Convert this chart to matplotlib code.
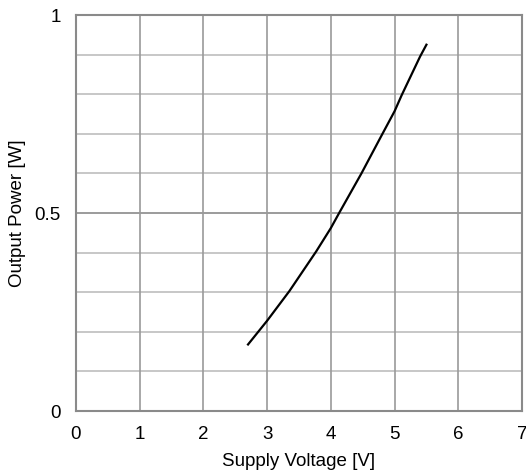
import matplotlib
matplotlib.use("Agg")
import matplotlib.pyplot as plt
import numpy as np

voltage = [2.70, 3.00, 3.35, 3.77, 4.00, 4.13, 4.48, 4.80, 5.00, 5.11, 5.40, 5.50]
power = [0.168, 0.228, 0.303, 0.403, 0.462, 0.500, 0.600, 0.697, 0.757, 0.797, 0.895, 0.925]

x_ticks = [0, 1, 2, 3, 4, 5, 6, 7]
y_ticks = [0, 0.5, 1]
y_tick_labels = ["0", "0.5", "1"]
y_grid = [0.1, 0.2, 0.3, 0.4, 0.5, 0.6, 0.7, 0.8, 0.9]

plt.rcParams['font.family'] = ['Liberation Sans', 'DejaVu Sans']

fig = plt.figure(figsize=(5.26, 4.74), dpi=100)
ax = fig.add_axes([76/526, 63/474, 446/526, 396/474])

for yv in y_grid:
    c = '#8a8a8a' if abs(yv - 0.5) < 1e-9 else '#bdbdbd'
    ax.axhline(yv, color=c, lw=1.2, zorder=1)
for xv in x_ticks[1:-1]:
    ax.axvline(xv, color='#9a9a9a', lw=1.2, zorder=1)

ax.plot(voltage, power, color='black', lw=1.6, zorder=3, solid_joinstyle='round')

ax.set_xlim(0, 7)
ax.set_ylim(0, 1)
ax.set_xticks(x_ticks)
ax.set_yticks(y_ticks)
ax.set_yticklabels(y_tick_labels)
ax.tick_params(length=0, labelsize=13.5, colors='black')
ax.tick_params(axis='x', pad=11)
ax.tick_params(axis='y', pad=11)
for s in ax.spines.values():
    s.set_color('#8a8a8a')
    s.set_linewidth(1.5)

ax.set_xlabel('Supply Voltage [V]', fontsize=13.5, labelpad=7)
ax.set_ylabel('Output Power [W]', fontsize=13.5, labelpad=6)

fig.savefig('out.png', dpi=100)
